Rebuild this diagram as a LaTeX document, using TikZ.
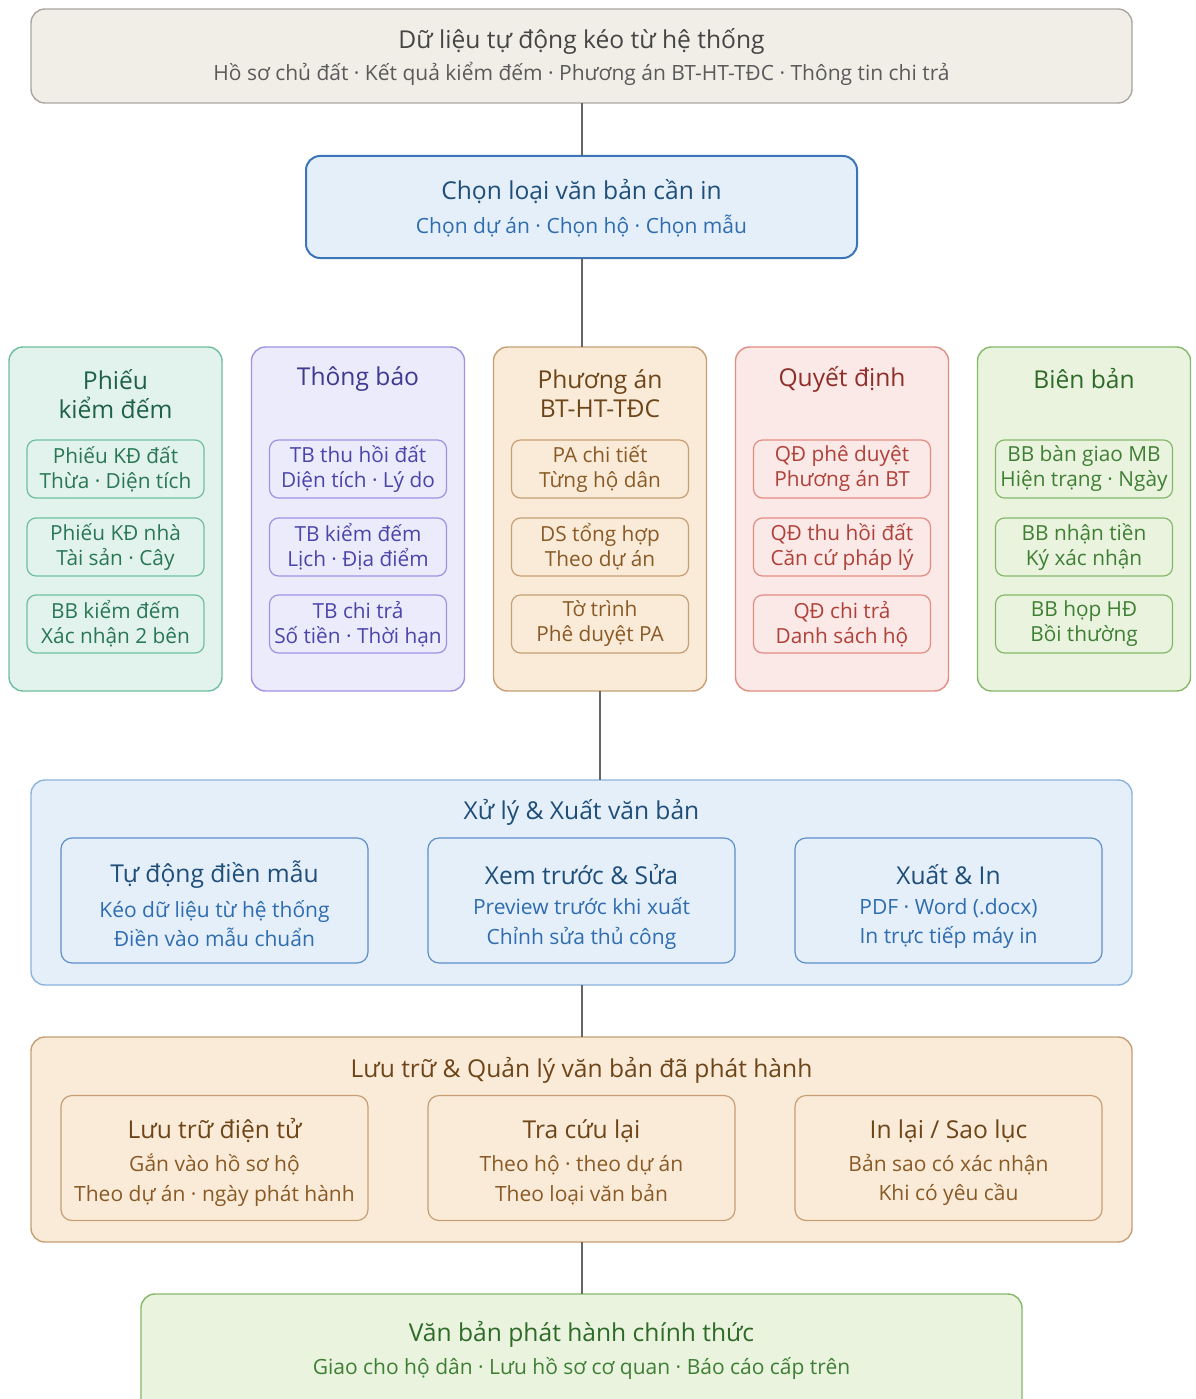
\documentclass[tikz,border=0pt]{standalone}
\usepackage{fontspec}
\setmainfont{Open Sans}
\definecolor{srcFill}{HTML}{F1EEE8}
\definecolor{srcLine}{HTML}{A9A6A1}
\definecolor{srcText}{HTML}{454545}
\definecolor{srcSub}{HTML}{5A5A5A}
\definecolor{blueFill}{HTML}{E4EFFA}
\definecolor{blueLine}{HTML}{3C74B8}
\definecolor{blueSoft}{HTML}{8DB3DE}
\definecolor{blueMid}{HTML}{5F8FC9}
\definecolor{blueDark}{HTML}{1F4E79}
\definecolor{blueText}{HTML}{2F6DB0}
\definecolor{tealFill}{HTML}{E1F3EC}
\definecolor{tealLine}{HTML}{6FBF9F}
\definecolor{tealText}{HTML}{1F6049}
\definecolor{tealSub}{HTML}{2A7657}
\definecolor{lilFill}{HTML}{ECEBFC}
\definecolor{lilLine}{HTML}{9D92E3}
\definecolor{lilText}{HTML}{3F3A8F}
\definecolor{lilSub}{HTML}{4B45AA}
\definecolor{tanFill}{HTML}{FAEBD8}
\definecolor{tanLine}{HTML}{C79F74}
\definecolor{tanText}{HTML}{6E4519}
\definecolor{tanSub}{HTML}{8A5A26}
\definecolor{roseFill}{HTML}{FAE9E6}
\definecolor{roseLine}{HTML}{E28C82}
\definecolor{roseText}{HTML}{8E2F2A}
\definecolor{roseSub}{HTML}{B0403A}
\definecolor{leafFill}{HTML}{E9F3DE}
\definecolor{leafLine}{HTML}{84B96A}
\definecolor{leafText}{HTML}{2E6A28}
\definecolor{leafSub}{HTML}{3F7F34}
\definecolor{wire}{HTML}{666666}
\begin{document}
\begin{tikzpicture}[x=1pt,y=-1pt,
  panel/.style={rectangle, rounded corners=14pt, line width=1.4pt, inner sep=0pt, outer sep=0pt},
  colbox/.style={panel, minimum width=213, minimum height=344},
  cell/.style={rectangle, rounded corners=9pt, line width=1.2pt, inner sep=0pt, outer sep=0pt,
    minimum width=177, minimum height=58, align=center, font=\fontsize{20.8}{25}\selectfont},
  card/.style={rectangle, rounded corners=11pt, line width=1.2pt, inner sep=0pt, outer sep=0pt,
    minimum width=307, minimum height=125},
  ttl/.style={inner sep=0pt, font=\fontsize{24.6}{29}\selectfont, align=center},
  sub/.style={inner sep=0pt, font=\fontsize{21}{29.5}\selectfont, align=center},
  teal/.style={fill=tealFill, draw=tealLine, text=tealSub},
  lil/.style={fill=lilFill, draw=lilLine, text=lilSub},
  tan/.style={fill=tanFill, draw=tanLine, text=tanSub},
  rose/.style={fill=roseFill, draw=roseLine, text=roseSub},
  leaf/.style={fill=leafFill, draw=leafLine, text=leafSub},
  conn/.style={draw=wire, line width=2pt}]
\useasboundingbox (0,0) rectangle (1195,1399);
\clip (0,0) rectangle (1195,1399);
\fill[white] (0,0) rectangle (1195,1399);

% data source
\node[panel, fill=srcFill, draw=srcLine, minimum width=1101, minimum height=94] (src) at (581.5,56) {};
\node[ttl, text=srcText] (srcT) at (581.5,41) {Dữ liệu tự động kéo từ hệ thống};
\node[sub, text=srcSub] (srcS) at (581.5,74) {Hồ sơ chủ đất · Kết quả kiểm đếm · Phương án BT-HT-TĐC · Thông tin chi trả};

% document picker
\node[panel, fill=blueFill, draw=blueLine, line width=2pt, minimum width=551, minimum height=102] (pick) at (581.5,207) {};
\node[ttl, text=blueDark] (pickT) at (581.5,192) {Chọn loại văn bản cần in};
\node[sub, text=blueText] (pickS) at (581.5,226) {Chọn dự án · Chọn hộ · Chọn mẫu};

% document families
\node[colbox, teal] (kd) at (115.5,519) {};
\node[ttl, text=tealText] (kdH) at (115.5,394) {Phiếu\\kiểm đếm};
\node[cell, teal] (kd1) at (115.5,469) {Phiếu KĐ đất\\Thừa · Diện tích};
\node[cell, teal] (kd2) at (115.5,547) {Phiếu KĐ nhà\\Tài sản · Cây};
\node[cell, teal] (kd3) at (115.5,624) {BB kiểm đếm\\Xác nhận 2 bên};

\node[colbox, lil] (tb) at (358,519) {};
\node[ttl, text=lilText] (tbH) at (358,379) {Thông báo};
\node[cell, lil] (tb1) at (358,469) {TB thu hồi đất\\Diện tích · Lý do};
\node[cell, lil] (tb2) at (358,547) {TB kiểm đếm\\Lịch · Địa điểm};
\node[cell, lil] (tb3) at (358,624) {TB chi trả\\Số tiền · Thời hạn};

\node[colbox, tan] (pa) at (600,519) {};
\node[ttl, text=tanText] (paH) at (600,394) {Phương án\\BT-HT-TĐC};
\node[cell, tan] (pa1) at (600,469) {PA chi tiết\\Từng hộ dân};
\node[cell, tan] (pa2) at (600,547) {DS tổng hợp\\Theo dự án};
\node[cell, tan] (pa3) at (600,624) {Tờ trình\\Phê duyệt PA};

\node[colbox, rose] (qd) at (842,519) {};
\node[ttl, text=roseText] (qdH) at (842,379) {Quyết định};
\node[cell, rose] (qd1) at (842,469) {QĐ phê duyệt\\Phương án BT};
\node[cell, rose] (qd2) at (842,547) {QĐ thu hồi đất\\Căn cứ pháp lý};
\node[cell, rose] (qd3) at (842,624) {QĐ chi trả\\Danh sách hộ};

\node[colbox, leaf] (bb) at (1084,519) {};
\node[ttl, text=leafText] (bbH) at (1084,379) {Biên bản};
\node[cell, leaf] (bb1) at (1084,469) {BB bàn giao MB\\Hiện trạng · Ngày};
\node[cell, leaf] (bb2) at (1084,547) {BB nhận tiền\\Ký xác nhận};
\node[cell, leaf] (bb3) at (1084,624) {BB họp HĐ\\Bồi thường};

% processing stage
\node[panel, fill=blueFill, draw=blueSoft, minimum width=1101, minimum height=205] (proc) at (581.5,882.5) {};
\node[ttl, text=blueDark] (procT) at (581.5,812) {Xử lý \& Xuất văn bản};
\node[card, fill=blueFill, draw=blueMid] (fill) at (214.5,900.5) {};
\node[ttl, text=blueDark] (fillT) at (214.5,875) {Tự động điền mẫu};
\node[sub, text=blueText] (fillS) at (214.5,923.5) {Kéo dữ liệu từ hệ thống\\Điền vào mẫu chuẩn};
\node[card, fill=blueFill, draw=blueMid] (prev) at (581.5,900.5) {};
\node[ttl, text=blueDark] (prevT) at (581.5,875) {Xem trước \& Sửa};
\node[sub, text=blueText] (prevS) at (581.5,923.5) {Preview trước khi xuất\\Chỉnh sửa thủ công};
\node[card, fill=blueFill, draw=blueMid] (out) at (948.5,900.5) {};
\node[ttl, text=blueDark] (outT) at (948.5,875) {Xuất \& In};
\node[sub, text=blueText] (outS) at (948.5,923.5) {PDF · Word (.docx)\\In trực tiếp máy in};

% archive stage
\node[panel, fill=tanFill, draw=tanLine, minimum width=1101, minimum height=205] (arch) at (581.5,1139.5) {};
\node[ttl, text=tanText] (archT) at (581.5,1070) {Lưu trữ \& Quản lý văn bản đã phát hành};
\node[card, fill=tanFill, draw=tanLine] (keep) at (214.5,1158) {};
\node[ttl, text=tanText] (keepT) at (214.5,1131) {Lưu trữ điện tử};
\node[sub, text=tanSub] (keepS) at (214.5,1180) {Gắn vào hồ sơ hộ\\Theo dự án · ngày phát hành};
\node[card, fill=tanFill, draw=tanLine] (find) at (581.5,1158) {};
\node[ttl, text=tanText] (findT) at (581.5,1131) {Tra cứu lại};
\node[sub, text=tanSub] (findS) at (581.5,1180) {Theo hộ · theo dự án\\Theo loại văn bản};
\node[card, fill=tanFill, draw=tanLine] (copy) at (948.5,1158) {};
\node[ttl, text=tanText] (copyT) at (948.5,1131) {In lại / Sao lục};
\node[sub, text=tanSub] (copyS) at (948.5,1180) {Bản sao có xác nhận\\Khi có yêu cầu};

% official release
\node[panel, fill=leafFill, draw=leafLine, minimum width=881, minimum height=124] (rel) at (581.5,1356) {};
\node[ttl, text=leafText] (relT) at (581.5,1334) {Văn bản phát hành chính thức};
\node[sub, text=leafSub] (relS) at (581.5,1368) {Giao cho hộ dân · Lưu hồ sơ cơ quan · Báo cáo cấp trên};

% connectors
\draw[conn] (src.south) -- (pick.north);
\draw[conn] (pick.south) -- (pick.south |- pa.north);
\draw[conn] (pa.south) -- (pa.south |- proc.north);
\draw[conn] (proc.south) -- (arch.north);
\draw[conn] (arch.south) -- (rel.north);
\end{tikzpicture}
\end{document}
